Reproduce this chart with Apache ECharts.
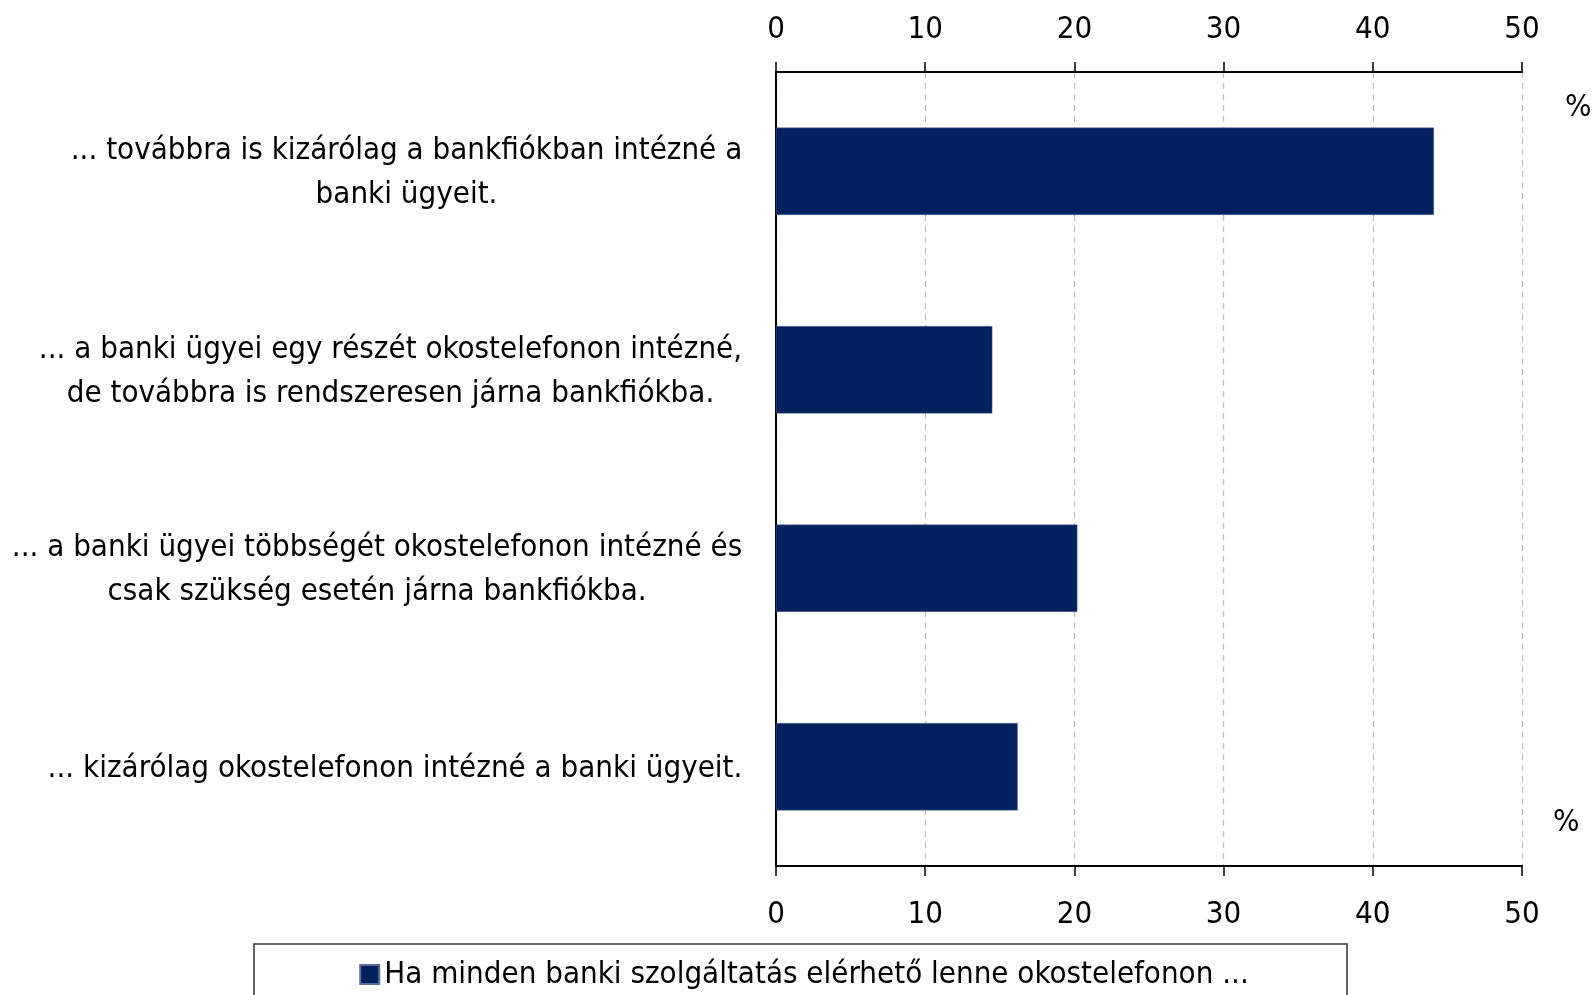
<!DOCTYPE html>
<html><head><meta charset="utf-8">
<script src="https://cdn.jsdelivr.net/npm/echarts@6/dist/echarts.min.js"></script>
<style>html,body{margin:0;padding:0;background:#fff}#c{width:1592px;height:995px}</style>
</head><body><div id="c"></div>
<script>
const categories = [
  '... továbbra is kizárólag a bankfiókban intézné a\nbanki ügyeit.',
  '... a banki ügyei egy részét okostelefonon intézné,\nde továbbra is rendszeresen járna bankfiókba.',
  '... a banki ügyei többségét okostelefonon intézné és\ncsak szükség esetén járna bankfiókba.',
  '... kizárólag okostelefonon intézné a banki ügyeit.'
];
const values = [44.1, 14.5, 20.2, 16.2];
const seriesName = 'Ha minden banki szolgáltatás elérhető lenne okostelefonon ...';
const unitLabel = '%';

const FONT = '"DejaVu Sans Condensed", "Liberation Sans"';
const FS = 31;
const ctx = document.createElement('canvas').getContext('2d');
ctx.font = FS + 'px ' + FONT;
const measure = s => ctx.measureText(s).width;

// rich styles: each label block right-aligned, its lines centred within the block
const rich = {};
categories.forEach((c, i) => {
  const w = Math.max.apply(null, c.split('\n').map(measure));
  rich['r' + i] = {width: Math.ceil(w) + 1, align: 'center', fontFamily: FONT, fontSize: FS, color: '#000', lineHeight: 44};
});

const legendTextW = measure(seriesName);
const legendContentW = 19 + 8 + legendTextW;

const chart = echarts.init(document.getElementById('c'));
const axisCommon = {
  type: 'value', min: 0, max: 50, interval: 10,
  axisLine: {show: true, lineStyle: {color: '#000', width: 2}},
  axisTick: {show: true, length: 10, lineStyle: {color: '#000', width: 1.5}},
  axisLabel: {fontFamily: FONT, fontSize: FS, color: '#000', margin: 27},
};
chart.setOption({
  animation: false,
  textStyle: {fontFamily: FONT},
  grid: {left: 776, right: 70, top: 72, bottom: 129, containLabel: false, outerBoundsMode: 'none'},
  xAxis: [
    Object.assign({}, axisCommon, {position: 'top', splitLine: {show: true, lineStyle: {color: '#c0c0c0', type: [6, 5], width: 1.3}}}),
    Object.assign({}, axisCommon, {position: 'bottom', splitLine: {show: false}, axisLabel: Object.assign({}, axisCommon.axisLabel, {margin: 33})})
  ],
  yAxis: [{
    type: 'category', data: categories, inverse: true,
    axisLine: {show: true, lineStyle: {color: '#000', width: 2}},
    axisTick: {show: false},
    axisLabel: {
      margin: 33, align: 'right', padding: [4, 0, 0, 0],
      formatter: (v, i) => v.split('\n').map(l => '{r' + i + '|' + l + '}').join('\n'),
      rich: rich
    }
  }, {
    type: 'category', data: categories, inverse: true, position: 'right',
    axisLine: {show: true, lineStyle: {color: '#000', width: 2}},
    axisTick: {show: false}, axisLabel: {show: false}
  }],
  legend: {
    data: [{name: seriesName, icon: 'rect'}],
    left: 805 - legendContentW / 2, top: 959, itemWidth: 19, itemHeight: 19, itemGap: 8,
    padding: 0,
    textStyle: {fontFamily: FONT, fontSize: FS, color: '#000'}
  },
  graphic: [
    {type: 'rect', shape: {x: 254, y: 944, width: 1093, height: 80}, style: {fill: 'none', stroke: '#333', lineWidth: 1.5}},
    {type: 'text', left: 1565, top: 92, style: {text: unitLabel, fontFamily: FONT, fontSize: FS, fill: '#000'}},
    {type: 'text', left: 1553, top: 807, style: {text: unitLabel, fontFamily: FONT, fontSize: FS, fill: '#000'}}
  ],
  series: [{
    name: seriesName, type: 'bar', data: values, xAxisIndex: 0, yAxisIndex: 0,
    barCategoryGap: '56%',
    itemStyle: {color: '#02215E', borderColor: '#5a6f99', borderWidth: 0.5}
  }]
});
</script></body></html>
